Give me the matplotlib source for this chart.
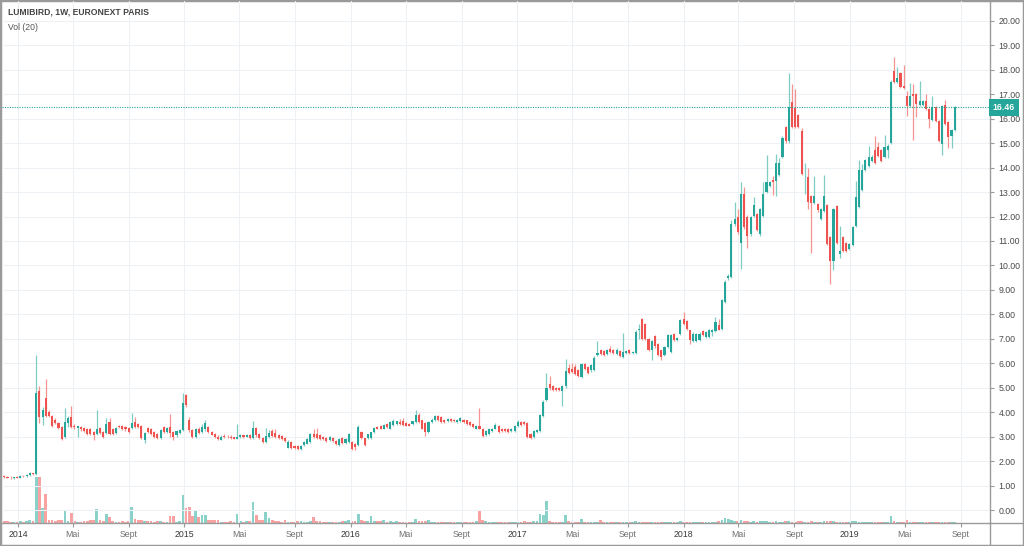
import matplotlib

matplotlib.use("Agg")
import matplotlib.dates as mdates
import matplotlib.pyplot as plt
import matplotlib.transforms as mtransforms
import numpy as np
import pandas as pd
from matplotlib.lines import Line2D
from matplotlib.patches import Rectangle

plt.rcParams["font.family"] = ["Liberation Sans", "DejaVu Sans"]

# weekly bars, LUMIBIRD (Euronext Paris), first bar week of 2013-12-02
FIRST_BAR = "2013-12-02"
LAST_PRICE = 16.46

opens = [
    1.40, 1.36, 1.33, 1.30, 1.34, 1.32, 1.40, 1.38, 1.44, 1.50,
    1.46, 4.86, 3.80, 4.60, 4.00, 3.84, 3.67, 3.55, 3.39, 2.98,
    3.55, 3.80, 3.42, 3.36, 3.39, 3.37, 3.30, 3.30, 3.20, 3.10,
    3.35, 3.20, 3.14, 3.60, 3.30, 3.16, 3.42, 3.42, 3.39, 3.35,
    3.35, 3.60, 3.50, 3.43, 2.86, 3.35, 3.30, 3.20, 3.10, 2.96,
    3.40, 3.20, 3.40, 3.20, 3.05, 3.15, 3.27, 4.70, 3.70, 3.27,
    3.00, 3.30, 3.20, 3.30, 3.40, 3.20, 3.10, 3.00, 2.88, 3.00,
    3.00, 2.98, 2.97, 2.92, 2.98, 3.05, 3.00, 3.06, 2.94, 3.35,
    3.10, 2.95, 2.79, 2.99, 3.22, 3.13, 3.06, 3.03, 2.95, 2.54,
    2.79, 2.60, 2.62, 2.49, 2.65, 2.72, 2.79, 3.09, 3.09, 3.06,
    3.00, 2.95, 2.86, 2.94, 2.82, 2.64, 2.96, 2.76, 2.78, 2.78,
    2.72, 2.65, 3.17, 2.93, 2.93, 2.95, 3.17, 3.40, 3.44, 3.33,
    3.50, 3.33, 3.47, 3.50, 3.60, 3.63, 3.55, 3.50, 3.50, 3.60,
    3.88, 3.67, 3.55, 3.20, 3.60, 3.70, 3.84, 3.80, 3.70, 3.62,
    3.73, 3.70, 3.60, 3.62, 3.70, 3.67, 3.60, 3.50, 3.33, 3.45,
    3.33, 3.07, 3.12, 3.22, 3.33, 3.42, 3.33, 3.33, 3.30, 3.22,
    3.22, 3.44, 3.58, 3.60, 3.55, 3.10, 2.99, 3.20, 3.24, 3.85,
    4.49, 5.14, 5.06, 5.00, 5.00, 4.87, 5.06, 5.82, 5.78, 5.85,
    5.74, 5.44, 5.98, 5.85, 5.71, 5.74, 6.33, 6.53, 6.50, 6.37,
    6.60, 6.53, 6.37, 6.50, 6.26, 6.40, 6.53, 6.42, 6.42, 7.35,
    7.82, 7.62, 7.00, 6.53, 7.10, 6.78, 6.53, 6.33, 6.67, 6.46,
    7.18, 6.94, 7.20, 7.82, 7.72, 7.35, 6.91, 6.91, 6.94, 7.32,
    7.07, 7.07, 7.28, 7.30, 7.55, 7.41, 8.50, 9.47, 9.52, 11.70,
    11.97, 10.90, 12.92, 11.99, 11.27, 12.04, 12.10, 11.27, 12.04, 13.00,
    13.26, 13.50, 13.47, 13.71, 14.45, 15.67, 15.07, 16.67, 16.43, 16.16,
    15.51, 13.60, 13.63, 12.82, 12.54, 12.50, 11.90, 12.22, 12.49, 11.18,
    10.20, 12.43, 10.45, 11.15, 10.90, 10.67, 10.82, 11.60, 12.40, 13.10,
    13.90, 14.08, 14.26, 14.72, 14.83, 14.70, 14.45, 14.70, 14.99, 17.96,
    17.48, 17.85, 17.33, 16.94, 16.53, 17.00, 17.00, 16.57, 16.57, 16.73,
    16.39, 15.94, 16.46, 15.92, 14.96, 16.57, 15.85, 15.30, 15.54,
]

highs = [
    1.45, 1.40, 1.38, 1.36, 1.40, 1.42, 1.45, 1.48, 1.55, 1.52,
    6.35, 5.06, 4.20, 5.35, 4.10, 3.90, 3.75, 3.60, 3.45, 4.16,
    3.85, 4.24, 3.50, 3.45, 3.45, 3.40, 3.35, 3.35, 3.25, 4.08,
    3.40, 3.25, 3.75, 3.75, 3.35, 3.40, 3.48, 3.48, 3.42, 3.40,
    3.96, 3.80, 3.55, 3.48, 3.20, 3.40, 3.35, 3.25, 3.15, 3.30,
    3.45, 3.40, 3.92, 3.25, 3.28, 3.30, 4.78, 4.76, 3.80, 3.30,
    3.35, 3.40, 3.50, 3.67, 3.45, 3.25, 3.15, 3.05, 3.05, 3.10,
    3.08, 3.05, 3.00, 3.50, 3.10, 3.08, 3.10, 3.10, 3.63, 3.40,
    3.15, 3.00, 3.35, 3.27, 3.30, 3.30, 3.10, 3.08, 3.00, 2.85,
    2.82, 2.65, 2.66, 2.66, 2.82, 2.93, 3.15, 3.30, 3.35, 3.10,
    3.04, 2.98, 3.04, 2.98, 2.86, 2.94, 3.00, 2.94, 3.14, 2.82,
    2.76, 3.47, 3.22, 2.96, 3.12, 3.20, 3.40, 3.45, 3.48, 3.50,
    3.54, 3.64, 3.71, 3.66, 3.71, 3.75, 3.58, 3.54, 3.66, 4.08,
    3.98, 3.70, 3.58, 3.64, 3.75, 3.90, 3.88, 3.84, 3.74, 3.77,
    3.76, 3.74, 3.74, 3.82, 3.74, 3.70, 3.64, 3.54, 3.48, 4.18,
    3.36, 3.28, 3.36, 3.36, 3.55, 3.46, 3.36, 3.36, 3.34, 3.36,
    3.48, 3.70, 3.62, 3.64, 3.58, 3.14, 3.28, 3.33, 3.92, 4.51,
    5.60, 5.46, 5.12, 5.05, 5.05, 5.10, 6.16, 5.98, 6.03, 5.95,
    5.78, 6.03, 6.02, 5.90, 5.96, 6.28, 6.91, 6.58, 6.55, 6.58,
    6.70, 6.58, 6.62, 6.55, 7.22, 6.56, 6.58, 6.52, 7.35, 7.60,
    7.85, 7.66, 7.04, 6.95, 7.14, 6.82, 6.56, 6.72, 7.20, 7.18,
    7.22, 7.08, 7.82, 8.09, 7.76, 7.38, 7.26, 7.22, 7.26, 7.36,
    7.32, 7.40, 7.40, 7.90, 7.82, 8.62, 9.40, 9.65, 11.84, 12.58,
    12.30, 13.40, 13.20, 12.05, 12.04, 12.80, 12.15, 12.35, 13.40, 14.50,
    13.46, 13.67, 14.55, 14.40, 15.30, 15.72, 17.85, 17.40, 17.20, 16.20,
    15.60, 14.20, 13.98, 12.86, 13.67, 12.55, 12.35, 13.70, 12.53, 11.22,
    12.35, 12.47, 11.60, 11.20, 10.94, 10.92, 11.60, 13.45, 14.30, 14.15,
    14.35, 14.90, 14.50, 15.30, 15.05, 14.74, 15.35, 14.96, 17.60, 18.53,
    18.10, 17.90, 18.20, 17.14, 17.45, 17.40, 17.04, 17.55, 16.77, 17.00,
    16.43, 16.94, 16.50, 15.96, 16.55, 16.76, 15.89, 15.58, 16.50,
]

lows = [
    1.32, 1.30, 1.25, 1.27, 1.30, 1.30, 1.36, 1.35, 1.40, 1.42,
    1.42, 3.55, 3.47, 3.80, 3.80, 3.40, 3.50, 3.30, 2.86, 2.95,
    3.40, 3.35, 3.30, 3.00, 3.25, 3.20, 3.05, 3.05, 2.86, 3.05,
    3.10, 2.95, 3.10, 3.05, 3.05, 3.12, 3.35, 3.28, 3.25, 3.15,
    3.30, 3.35, 3.35, 2.90, 2.73, 3.15, 3.05, 2.95, 2.90, 2.92,
    3.15, 3.15, 3.00, 2.86, 3.00, 3.10, 3.25, 4.20, 3.20, 2.95,
    2.95, 3.10, 3.15, 3.25, 3.15, 3.05, 2.95, 2.85, 2.85, 2.95,
    2.95, 2.92, 2.90, 2.90, 2.95, 2.95, 2.98, 2.90, 2.90, 3.00,
    2.90, 2.75, 2.75, 2.95, 3.00, 2.95, 2.92, 2.88, 2.78, 2.52,
    2.50, 2.50, 2.45, 2.45, 2.62, 2.70, 2.76, 2.95, 2.92, 2.88,
    2.86, 2.78, 2.82, 2.80, 2.64, 2.60, 2.72, 2.72, 2.75, 2.46,
    2.45, 2.62, 2.90, 2.60, 2.90, 2.92, 3.14, 3.30, 3.30, 3.30,
    3.36, 3.30, 3.44, 3.47, 3.46, 3.44, 3.42, 3.42, 3.47, 3.56,
    3.56, 3.30, 3.03, 3.16, 3.56, 3.66, 3.66, 3.56, 3.56, 3.58,
    3.58, 3.60, 3.56, 3.58, 3.56, 3.48, 3.44, 3.34, 3.30, 3.30,
    2.98, 3.03, 3.08, 3.18, 3.30, 3.16, 3.18, 3.18, 3.16, 3.18,
    3.18, 3.40, 3.44, 3.46, 2.95, 2.92, 2.95, 3.16, 3.20, 3.80,
    4.45, 4.92, 4.86, 4.85, 4.85, 4.24, 5.00, 5.55, 5.60, 5.50,
    5.42, 5.40, 5.74, 5.55, 5.66, 5.70, 6.28, 6.32, 6.28, 6.32,
    6.42, 6.36, 6.33, 6.24, 6.22, 6.36, 6.38, 6.38, 6.38, 7.00,
    6.96, 6.96, 6.50, 6.12, 6.64, 6.28, 6.12, 6.28, 6.62, 6.42,
    6.92, 6.90, 7.16, 7.55, 7.36, 6.80, 6.86, 6.86, 6.90, 7.10,
    7.03, 7.03, 7.10, 7.26, 7.34, 7.37, 8.45, 9.40, 9.48, 11.60,
    11.30, 9.87, 11.50, 10.70, 11.20, 12.00, 11.40, 11.20, 12.00, 12.96,
    13.20, 12.86, 12.82, 13.66, 14.40, 15.02, 15.02, 15.60, 15.60, 15.60,
    13.70, 12.90, 12.30, 10.50, 12.50, 12.20, 11.85, 12.18, 10.84, 9.25,
    9.80, 10.86, 10.30, 10.56, 10.56, 10.62, 10.78, 11.56, 12.36, 13.05,
    13.86, 14.04, 14.22, 14.16, 14.45, 14.22, 14.40, 14.40, 14.95, 17.44,
    17.44, 17.26, 17.20, 16.10, 16.49, 15.13, 16.05, 16.53, 16.53, 16.35,
    15.62, 15.90, 15.88, 15.06, 14.50, 15.74, 14.80, 14.80, 15.50,
]

closes = [
    1.36, 1.33, 1.30, 1.34, 1.32, 1.40, 1.38, 1.44, 1.50, 1.46,
    4.80, 3.80, 4.08, 3.85, 3.84, 3.43, 3.55, 3.35, 2.90, 3.60,
    3.75, 3.39, 3.38, 3.42, 3.30, 3.24, 3.10, 3.10, 3.08, 3.30,
    3.14, 3.00, 3.50, 3.10, 3.10, 3.35, 3.38, 3.30, 3.30, 3.20,
    3.55, 3.40, 3.40, 2.93, 3.14, 3.20, 3.10, 3.00, 2.96, 3.26,
    3.20, 3.35, 3.13, 3.00, 3.22, 3.27, 4.37, 4.29, 3.27, 3.00,
    3.30, 3.15, 3.38, 3.55, 3.20, 3.08, 3.00, 2.90, 3.00, 2.98,
    2.97, 2.95, 2.92, 3.00, 3.05, 3.00, 3.08, 2.94, 3.35, 3.06,
    2.95, 2.80, 3.03, 3.13, 3.03, 2.99, 2.95, 2.92, 2.82, 2.79,
    2.54, 2.54, 2.49, 2.62, 2.79, 2.90, 3.10, 2.99, 2.95, 2.92,
    2.90, 2.82, 3.00, 2.83, 2.68, 2.90, 2.76, 2.90, 3.10, 2.50,
    2.58, 3.40, 2.93, 2.65, 3.09, 3.17, 3.36, 3.33, 3.33, 3.47,
    3.40, 3.60, 3.63, 3.63, 3.50, 3.47, 3.45, 3.45, 3.63, 3.90,
    3.60, 3.33, 3.20, 3.60, 3.70, 3.86, 3.70, 3.60, 3.60, 3.73,
    3.62, 3.64, 3.70, 3.75, 3.60, 3.52, 3.47, 3.38, 3.44, 3.33,
    3.03, 3.24, 3.33, 3.33, 3.46, 3.20, 3.22, 3.22, 3.20, 3.33,
    3.44, 3.58, 3.48, 3.50, 3.00, 2.95, 3.24, 3.29, 3.88, 4.42,
    5.00, 4.97, 4.92, 4.90, 4.90, 5.06, 5.69, 5.60, 5.65, 5.55,
    5.47, 5.96, 5.78, 5.60, 5.92, 6.23, 6.42, 6.37, 6.33, 6.53,
    6.46, 6.40, 6.56, 6.29, 6.46, 6.50, 6.42, 6.46, 7.28, 7.41,
    7.00, 7.00, 6.55, 6.91, 6.69, 6.33, 6.26, 6.67, 7.14, 7.14,
    6.96, 7.04, 7.78, 7.59, 7.41, 6.94, 7.21, 7.18, 7.21, 7.14,
    7.28, 7.35, 7.35, 7.70, 7.38, 8.57, 9.32, 9.58, 11.70, 11.90,
    11.36, 12.90, 11.56, 11.20, 11.99, 12.45, 11.45, 12.31, 12.92, 13.40,
    13.40, 13.40, 14.20, 14.17, 15.20, 15.07, 16.46, 15.65, 15.65, 15.65,
    13.74, 13.63, 12.58, 12.54, 12.82, 12.26, 12.31, 12.82, 10.88, 10.18,
    12.31, 10.90, 10.61, 10.61, 10.60, 10.88, 11.56, 12.80, 13.90, 13.90,
    14.30, 14.45, 14.45, 14.20, 14.49, 14.26, 14.83, 14.90, 17.48, 17.48,
    17.66, 17.30, 17.24, 16.53, 16.94, 16.94, 16.60, 16.73, 16.73, 16.39,
    15.98, 16.46, 15.92, 15.10, 16.50, 15.78, 15.27, 15.54, 16.46,
]

# volume, relative units
volumes = [
    2, 2, 1, 1, 1, 2, 1, 2, 3, 2, 48, 48, 15, 30, 3, 3, 2, 3, 3, 13,
    2, 10, 2, 1, 1, 2, 2, 3, 3, 14, 3, 2, 9, 6, 2, 1, 1, 2, 1, 2,
    17, 4, 3, 3, 2, 2, 2, 1, 2, 2, 1, 1, 7, 7, 1, 2, 29, 15, 17, 7,
    12, 6, 8, 8, 3, 3, 3, 3, 1, 1, 1, 2, 1, 9, 2, 1, 2, 2, 22, 8,
    3, 3, 11, 5, 3, 2, 2, 1, 3, 1, 1, 1, 2, 2, 1, 1, 2, 6, 2, 2,
    1, 1, 1, 1, 1, 1, 2, 2, 3, 2, 2, 9, 3, 2, 2, 7, 2, 2, 2, 3,
    1, 2, 1, 2, 1, 1, 1, 1, 1, 4, 2, 2, 2, 3, 1, 1, 1, 1, 1, 1,
    1, 1, 1, 1, 1, 1, 1, 1, 2, 12, 3, 2, 1, 1, 1, 1, 1, 1, 1, 1,
    1, 1, 1, 2, 1, 1, 2, 2, 9, 8, 23, 2, 1, 1, 1, 1, 8, 2, 1, 1,
    1, 4, 1, 1, 1, 1, 1, 3, 1, 1, 1, 1, 1, 1, 1, 1, 1, 1, 2, 1,
    1, 1, 1, 1, 1, 1, 1, 1, 1, 1, 1, 1, 2, 1, 1, 1, 1, 1, 1, 1,
    1, 1, 1, 1, 2, 3, 5, 4, 3, 2, 2, 3, 2, 2, 1, 2, 1, 2, 2, 2,
    1, 1, 2, 1, 1, 2, 2, 1, 1, 2, 2, 1, 1, 2, 1, 1, 1, 2, 2, 2,
    2, 1, 1, 1, 1, 1, 2, 2, 1, 1, 1, 1, 1, 1, 1, 1, 1, 1, 7, 2,
    1, 1, 1, 3, 1, 1, 1, 1, 1, 1, 1, 1, 1, 1, 1, 1, 1, 1, 1,
]

years = [2014, 2015, 2016, 2017, 2018, 2019]
month_names = {1: None, 5: "Mai", 9: "Sept"}
price_ticks = list(range(0, 21))

GREEN, RED = "#26a69a", "#ef5350"
GREEN_WICK, RED_WICK = "#7fccc3", "#f49390"
GREEN_VOL, RED_VOL = "#8ad1c9", "#f8a3a1"
GRID = "#edf0f4"
FRAME = "#9a9a9a"

n = len(closes)
assert n == len(opens) == len(highs) == len(lows) == len(volumes)
dates = pd.date_range(FIRST_BAR, periods=n, freq="7D")
x = mdates.date2num(dates)
o, h, l, c = map(np.asarray, (opens, highs, lows, closes))
up = c >= o

W, H = 1024, 546
fig = plt.figure(figsize=(W / 100, H / 100), dpi=100)
rect = [2 / W, (H - 523) / H, 988 / W, 522 / H]
vax = fig.add_axes(rect, zorder=1)
ax = fig.add_axes(rect, zorder=2)
ax.set_facecolor("none")

t0 = pd.Timestamp("2014-01-01")
xlim = (mdates.date2num(t0 - pd.Timedelta(days=35)), mdates.date2num(t0 + pd.Timedelta(days=2133.5)))

# volume pane (overlay at the bottom)
vax.bar(x, volumes, width=6.0, color=np.where(up, GREEN_VOL, RED_VOL), lw=0)
vax.set_xlim(xlim)
vax.set_ylim(0, max(volumes) * 522 / 46.5)
vax.axis("off")

# candles
ax.vlines(x, np.minimum(l, np.minimum(o, c)), np.maximum(h, np.maximum(o, c)),
          colors=np.where(up, GREEN_WICK, RED_WICK), lw=0.9, zorder=2)
ax.bar(x, np.maximum(np.abs(c - o), 0.03), bottom=np.minimum(o, c), width=4.6,
       color=np.where(up, GREEN, RED), lw=0, zorder=3)

ax.axhline(LAST_PRICE, color=GREEN, lw=0.8, ls=(0, (1, 1.2)), zorder=4)

ax.set_xlim(xlim)
ax.set_ylim(-0.53, 20.81)

# time axis
xt, xl = [], []
for y in years:
    for m, name in month_names.items():
        d = pd.Timestamp(year=y, month=m, day=1)
        if d > t0 + pd.Timedelta(days=2120):
            continue
        xt.append(mdates.date2num(d))
        xl.append(str(y) if name is None else name)
ax.set_xticks(xt)
ax.set_xticklabels(xl)
for lab in ax.get_xticklabels():
    lab.set_color("#3a3a3a" if lab.get_text().isdigit() else "#6f6f6f")

ax.yaxis.tick_right()
ax.set_yticks(price_ticks)
ax.set_yticklabels([f"{v:.2f}" for v in price_ticks])
ax.tick_params(axis="x", length=3, color=FRAME, labelsize=6.3, pad=2)
ax.tick_params(axis="y", length=3, color=FRAME, labelsize=6.3, pad=3, labelcolor="#4a4a4a")
ax.grid(color=GRID, lw=0.8)
ax.set_axisbelow(True)
for s in ("left", "top"):
    ax.spines[s].set_visible(False)
for s in ("right", "bottom"):
    ax.spines[s].set_color(FRAME)
    ax.spines[s].set_linewidth(1.0)

# last price tag on the price scale
trans = mtransforms.blended_transform_factory(ax.transAxes, ax.transData)
ax.text(1.003, LAST_PRICE, f"{LAST_PRICE:.2f}", transform=trans, ha="left", va="center",
        fontsize=6.3, fontweight="bold", color="white", zorder=6, clip_on=False,
        bbox=dict(boxstyle="square,pad=0.45", fc=GREEN, ec="none"))

# frame pieces outside the plot
fig.add_artist(Line2D([990 / W, 990 / W], [0, (H - 523) / H], color=FRAME, lw=1.0))
fig.add_artist(Line2D([990 / W, 1], [(H - 523) / H] * 2, color=FRAME, lw=1.0))
fig.add_artist(Rectangle((0, 0), 1, 1, transform=fig.transFigure, fill=False, ec=FRAME, lw=2.5))

fig.text(8 / W, 1 - 12 / H, "LUMIBIRD, 1W, EURONEXT PARIS", fontsize=6.2, fontweight="bold",
         color="#444444", va="center")
fig.text(8 / W, 1 - 27 / H, "Vol (20)", fontsize=6.2, color="#555555", va="center")

fig.savefig("out.png", dpi=100)
